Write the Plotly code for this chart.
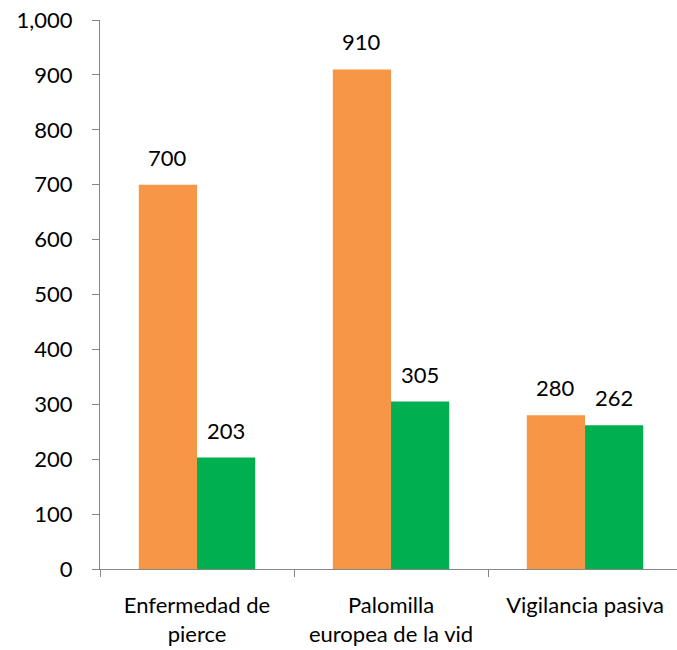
import plotly.graph_objects as go

categories = ["Enfermedad de<br>pierce", "Palomilla<br>europea de la vid", "Vigilancia pasiva"]
series_a = [700, 910, 280]
series_b = [203, 305, 262]
y_ticks = [0, 100, 200, 300, 400, 500, 600, 700, 800, 900, 1000]
y_tick_labels = ["0", "100", "200", "300", "400", "500", "600", "700", "800", "900", "1,000"]

orange = "#F79646"
green = "#00B050"
font_family = "Lato"

fig = go.Figure()
fig.add_trace(go.Bar(x=categories, y=series_a, marker_color=orange, marker_line_width=0, name="A"))
fig.add_trace(go.Bar(x=categories, y=series_b, marker_color=green, marker_line_width=0, name="B"))

# value labels above bars
for i, (a, b) in enumerate(zip(series_a, series_b)):
    fig.add_annotation(x=i - 0.15, y=a, text=str(a), showarrow=False, yanchor="bottom",
                       yshift=12, font=dict(family=font_family, size=22, color="black"))
    fig.add_annotation(x=i + 0.15, y=b, text=str(b), showarrow=False, yanchor="bottom",
                       yshift=12, font=dict(family=font_family, size=22, color="black"))

fig.update_layout(
    width=677, height=650,
    margin=dict(l=100, r=0, t=20, b=81, autoexpand=False),
    paper_bgcolor="white", plot_bgcolor="white",
    barmode="group", bargap=0.4, bargroupgap=0,
    showlegend=False,
    font=dict(family=font_family, size=22, color="black"),
)
fig.update_xaxes(
    type="category", range=[-0.5, 2.474],
    showline=True, linecolor="#868686", linewidth=1,
    ticks="outside", tickson="boundaries", ticklen=7, tickcolor="#868686",
    showgrid=False, tickfont=dict(size=22, family=font_family),
    ticklabelstandoff=17, automargin=False,
)
fig.update_yaxes(
    range=[0, 1000], tickvals=y_ticks, ticktext=y_tick_labels,
    showline=True, linecolor="#868686", linewidth=1,
    ticks="outside", ticklen=7, tickcolor="#868686",
    showgrid=False, zeroline=False, tickfont=dict(size=22, family=font_family),
    ticklabelstandoff=15, automargin=False,
)

fig.write_html("out.html", config={"displayModeBar": False},
               post_script="document.body.style.margin='0';document.body.style.overflow='hidden';")
